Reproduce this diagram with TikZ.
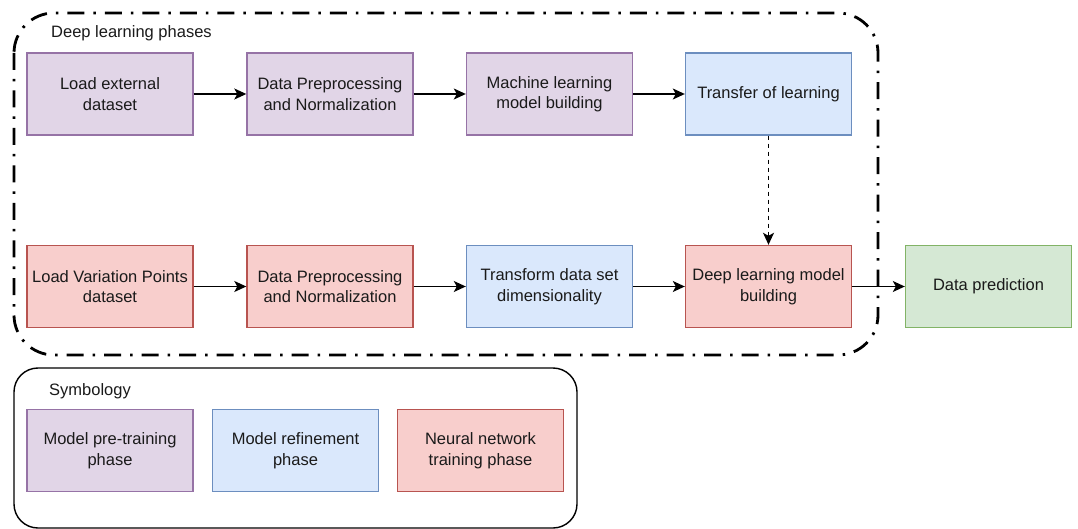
\documentclass[tikz,border=0pt]{standalone}
\usepackage{fontspec}
\setmainfont{Liberation Sans}
\usetikzlibrary{arrows.meta}

\definecolor{purpfill}{HTML}{E1D5E7}
\definecolor{purpline}{HTML}{9673A6}
\definecolor{bluefill}{HTML}{DAE8FC}
\definecolor{blueline}{HTML}{6C8EBF}
\definecolor{redfill}{HTML}{F8CECC}
\definecolor{redline}{HTML}{B85450}
\definecolor{greenfill}{HTML}{D5E8D4}
\definecolor{greenline}{HTML}{82B366}
\definecolor{inkcol}{HTML}{1A1A1A}

\tikzset{
  phase/.style={rectangle, line width=1.4pt, minimum width=166pt, minimum height=82pt,
    align=center, inner sep=2pt, text=inkcol,
    font=\fontsize{16.5}{20.5}\selectfont},
  pretrain/.style={phase, draw=purpline, fill=purpfill},
  refine/.style={phase, draw=blueline, fill=bluefill},
  nntrain/.style={phase, draw=redline, fill=redfill},
  outcome/.style={phase, draw=greenline, fill=greenfill},
  flow/.style={line width=1.4pt, -{Stealth[length=12pt,width=11pt,inset=3pt]}},
  loosedash/.style={line width=1.4pt, dash pattern=on 4pt off 4pt,
    -{Stealth[length=12pt,width=11pt,inset=3pt]}},
  groupframe/.style={line width=2.8pt, rounded corners=40pt,
    dash pattern=on 17pt off 9pt on 2.5pt off 9pt},
  legendframe/.style={line width=1.4pt, rounded corners=24pt},
  caption/.style={anchor=west, text=inkcol, inner sep=0pt,
    font=\fontsize{16.5}{20.5}\selectfont}
}

\begin{document}
\begin{tikzpicture}[x=1pt, y=-1pt]
\useasboundingbox (0,0) rectangle (1078,529);

% group of the deep learning phases
\draw[groupframe] (14,13) rectangle (878,355);
\node[caption] (grouptitle) at (51,33) {Deep learning phases};

% pre-training row
\node[pretrain] (load)  at (110,94)   {Load external\\dataset};
\node[pretrain] (prep)  at (330,94)   {Data Preprocessing\\and Normalization};
\node[pretrain] (mlb)   at (549.5,94) {Machine learning\\model building};
\node[refine]   (tl)    at (768.5,94) {Transfer of learning};

% training row
\node[nntrain] (loadvp) at (110,286.5)   {Load Variation Points\\dataset};
\node[nntrain] (prep2)  at (330,286.5)   {Data Preprocessing\\and Normalization};
\node[refine]  (dim)    at (549.5,286.5) {Transform data set\\dimensionality};
\node[nntrain] (dl)     at (768.5,286.5) {Deep learning model\\building};
\node[outcome] (pred)   at (988.5,286.5) {Data prediction};

\draw[flow] (load) -- (prep);
\draw[flow] (prep) -- (mlb);
\draw[flow] (mlb) -- (tl);
\draw[loosedash] (tl) -- (dl);

\draw[flow] (loadvp) -- (prep2);
\draw[flow] (prep2) -- (dim);
\draw[flow] (dim) -- (dl);
\draw[flow] (dl) -- (pred);

% legend
\draw[legendframe] (14,368) rectangle (577,528);
\node[caption] (legendtitle) at (49,391) {Symbology};
\node[pretrain] (lgpre)  at (110,450.5)   {Model pre-training\\phase};
\node[refine]   (lgref)  at (295.5,450.5) {Model refinement\\phase};
\node[nntrain]  (lgnn)   at (480.5,450.5) {Neural network\\training phase};
\end{tikzpicture}
\end{document}
